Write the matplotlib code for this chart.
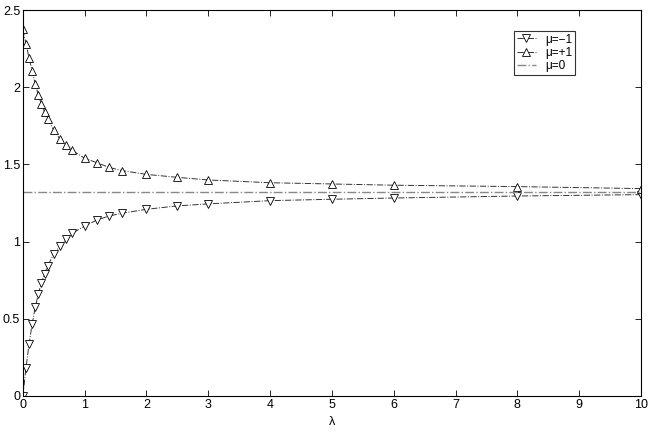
"""
Recreacion del grafico de mu = -1, +1, 0 en funcion de lambda.
"""

import matplotlib
matplotlib.use("Agg")
import matplotlib.pyplot as plt

# --- Datos ---
lam = [0, 0.05, 0.1, 0.15, 0.2, 0.25, 0.3, 0.35, 0.4, 0.5, 0.6, 0.7, 0.8,
       1.0, 1.2, 1.4, 1.6, 2.0, 2.5, 3, 4, 5, 6, 8, 10]

mu_minus = [0.0, 0.18, 0.337, 0.466, 0.574, 0.66, 0.734, 0.79, 0.842, 0.92,
            0.97, 1.015, 1.054, 1.10, 1.14, 1.166, 1.183, 1.209, 1.231,
            1.244, 1.265, 1.274, 1.282, 1.295, 1.304]

mu_plus = [2.375, 2.28, 2.19, 2.105, 2.02, 1.95, 1.89, 1.84, 1.796, 1.72,
           1.665, 1.625, 1.59, 1.54, 1.51, 1.48, 1.46, 1.435, 1.416,
           1.399, 1.381, 1.373, 1.365, 1.356, 1.343]

mu_zero_x = [0, 10]
mu_zero = [1.32, 1.32]

plt.rcParams["font.family"] = ["Liberation Sans", "DejaVu Sans"]
plt.rcParams["font.size"] = 9

fig = plt.figure(figsize=(6.54, 4.36), dpi=100)
ax = fig.add_axes([0.035, 0.092, 0.945, 0.885])

ax.plot(lam, mu_minus, linestyle="-.", color="#333333", linewidth=0.7,
        marker="v", markersize=6, markerfacecolor="white",
        markeredgecolor="black", markeredgewidth=0.6, label="μ=−1")
ax.plot(lam, mu_plus, linestyle="-.", color="#333333", linewidth=0.7,
        marker="^", markersize=6, markerfacecolor="white",
        markeredgecolor="black", markeredgewidth=0.6, label="μ=+1")
ax.plot(mu_zero_x, mu_zero, linestyle="-.", color="#888888", linewidth=1.0,
        label="μ=0")

ax.set_xlim(0, 10)
ax.set_ylim(0, 2.5)
ax.set_xticks(range(0, 11))
ax.set_yticks([0, 0.5, 1, 1.5, 2, 2.5])
ax.set_yticklabels(["0", "0.5", "1", "1.5", "2", "2.5"])
ax.tick_params(direction="in", top=True, right=True, length=4, width=0.6,
               pad=2, labelsize=9)
ax.set_xlabel("λ", labelpad=4)

for s in ax.spines.values():
    s.set_linewidth(0.8)

leg = ax.legend(loc="upper right", bbox_to_anchor=(0.903, 0.962),
                frameon=True, fancybox=False, edgecolor="black",
                fontsize=8.5, handlelength=1.6, handletextpad=0.8,
                borderpad=0.25, labelspacing=0.1)
leg.get_frame().set_linewidth(0.8)

fig.savefig("out.png", dpi=100)
